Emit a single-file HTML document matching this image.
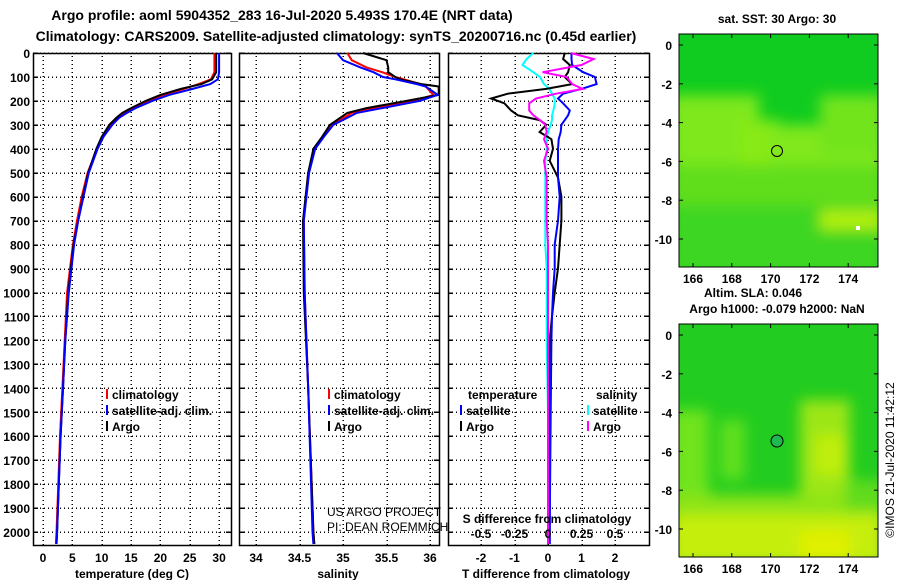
<!DOCTYPE html>
<html><head><meta charset="utf-8"><style>
body{margin:0;background:#fff;width:900px;height:580px;overflow:hidden}
svg text{font-family:"Liberation Sans",Arial,sans-serif;font-weight:bold;font-size:12px;fill:#000}
</style></head><body>
<svg id="c" width="900" height="580" viewBox="0 0 900 580">
<defs>
<filter id="blur1" x="-20%" y="-20%" width="140%" height="140%"><feGaussianBlur stdDeviation="7"/></filter>
<pattern id="dotH" width="4" height="2" patternUnits="userSpaceOnUse"><rect x="0" y="0" width="1" height="2" fill="#000"/></pattern>
<pattern id="dotV" width="2" height="4" patternUnits="userSpaceOnUse"><rect x="0" y="0" width="2" height="1" fill="#000"/></pattern>
<clipPath id="m1c"><rect x="679" y="34" width="199" height="233"/></clipPath>
<clipPath id="m2c"><rect x="679" y="324" width="199" height="233"/></clipPath>
<clipPath id="p1c"><rect x="33" y="45" width="198" height="500"/></clipPath>
<clipPath id="p2c"><rect x="239" y="45" width="200" height="500"/></clipPath>
<clipPath id="p3c"><rect x="448" y="45" width="201" height="500"/></clipPath>
</defs>
<text x="282" y="20" text-anchor="middle" style="font-size:14px">Argo profile: aoml 5904352_283 16-Jul-2020 5.493S 170.4E (NRT data)</text>
<text x="336" y="41" text-anchor="middle" style="font-size:14px">Climatology: CARS2009. Satellite-adjusted climatology: synTS_20200716.nc (0.45d earlier)</text>

<g>
<g clip-path="url(#m1c)">
<rect x="679" y="34" width="199" height="233" fill="#10cc20"/>
<g filter="url(#blur1)">
<rect x="670" y="95" width="89" height="90" fill="#7ee81a"/>
<rect x="740" y="120" width="40" height="70" fill="#88ea18"/>
<rect x="770" y="125" width="115" height="70" fill="#80e81a"/>
<rect x="820" y="95" width="65" height="60" fill="#72e41c"/>
<rect x="670" y="165" width="215" height="40" fill="#60de1e"/>
<rect x="670" y="205" width="215" height="70" fill="#3cd620"/>
<rect x="820" y="210" width="65" height="20" fill="#b0f010"/>
</g>
<circle cx="777" cy="151" r="5.5" fill="none" stroke="#000"/>
<rect x="856" y="226" width="4" height="4" fill="#fff"/>
</g>
<rect x="679" y="34" width="199" height="233" fill="none" stroke="#000"/>
</g>
<text x="777" y="23" text-anchor="middle">sat. SST: 30 Argo: 30</text>
<text x="753" y="297" text-anchor="middle">Altim. SLA: 0.046</text>
<text x="777" y="313" text-anchor="middle">Argo h1000: -0.079 h2000: NaN</text>

<g>
<g clip-path="url(#m2c)">
<rect x="679" y="324" width="199" height="233" fill="#22cc20"/>
<g filter="url(#blur1)">
<rect x="670" y="410" width="39" height="100" fill="#70e41c"/>
<rect x="720" y="420" width="25" height="60" fill="#60e01e"/>
<rect x="800" y="400" width="50" height="110" fill="#9ce616"/>
<rect x="815" y="435" width="30" height="40" fill="#c0ee10"/>
<rect x="670" y="510" width="215" height="55" fill="#c6ee10"/>
<rect x="670" y="495" width="215" height="20" fill="#8ee418"/>
<rect x="800" y="530" width="50" height="35" fill="#e0f000"/>
<rect x="845" y="480" width="40" height="30" fill="#60dc1e"/>
</g>
<circle cx="777" cy="441" r="6" fill="#20b850" stroke="#000"/>
</g>
<rect x="679" y="324" width="199" height="233" fill="none" stroke="#000"/>
</g>
<text transform="translate(894,460) rotate(-90)" text-anchor="middle" style="font-weight:normal">©IMOS 21-Jul-2020 11:42:12</text>

<g id="plots"></g>
</svg>
<script>
var tDepth = [0,80,110,130,150,175,200,230,250,270,300,350,400,500,600,700,800,1000,1200,1400,1600,1800,2000,2050];
var tArgo  = [29.5,29.5,28.8,27,23.5,20,17.5,15,13.5,12.5,11.3,10,9.1,7.7,6.8,6,5.2,4.3,3.8,3.4,3,2.7,2.4,2.3];
var tClim  = [29.2,29.2,28.6,26.5,24,20.5,18,15.4,14,12.8,11.6,10.2,9.2,7.6,6.6,5.8,5.1,4.1,3.7,3.3,2.9,2.6,2.3,2.2];
var tSat   = [30,30,29.8,28.5,25.5,21.5,18.6,15.8,14.3,13.0,11.8,10.3,9.3,7.8,6.9,6,5.3,4.4,3.8,3.4,3,2.7,2.4,2.3];
var sDepth = [0,30,60,80,100,110,130,140,175,200,230,250,300,350,400,500,700,1000,1400,2000,2050];
var sArgo  = [35.23,35.5,35.52,35.52,35.6,35.66,35.9,36.1,36.1,35.73,35.27,35.05,34.85,34.76,34.66,34.6,34.54,34.55,34.6,34.66,34.67];
var sClim  = [35.05,35.1,35.27,35.45,35.6,35.7,35.89,35.95,36.04,35.8,35.35,35.1,34.88,34.77,34.67,34.6,34.55,34.56,34.6,34.66,34.67];
var sSat   = [34.93,35.0,35.2,35.35,35.46,35.6,35.85,35.95,36.09,35.88,35.45,35.16,34.89,34.78,34.68,34.61,34.55,34.56,34.6,34.65,34.66];
var dDepth = [0,25,50,80,100,130,150,170,190,210,240,260,280,300,330,360,400,450,520,600,700,800,900,1000,1100,1200,1500,2000,2050];
var dTArgo = [0.5,0.45,0.65,0.6,0.5,0.72,-0.05,-1.2,-1.7,-1.3,-1.1,-0.9,-0.25,-0.05,-0.25,0.1,0.15,0.05,0.3,0.4,0.4,0.35,0.3,0.2,0.12,0.05,0.05,0.05,0.05];
var dTSat  = [0.7,0.7,0.72,1.05,1.4,1.45,1.0,0.45,0.3,0.45,0.65,0.6,0.5,0.4,0.38,0.32,0.3,0.3,0.3,0.35,0.3,0.2,0.2,0.15,0.12,0.1,0.08,0.05,0.05];
var dSSat  = [-0.11,-0.16,-0.19,-0.11,-0.06,-0.03,0.01,0.03,0.05,0.05,0.04,0.03,0.03,0.02,0.0,-0.01,-0.01,-0.02,-0.02,-0.02,-0.02,-0.02,-0.01,-0.01,-0.01,-0.01,0,0,0];
var dSArgo = [0.17,0.34,0.25,-0.04,0.14,0.18,0.26,0.06,-0.09,-0.14,-0.14,-0.11,-0.06,-0.02,-0.01,-0.03,0.0,-0.03,-0.01,-0.01,-0.01,0,0,0,0,0,0,0,0];
var depthTicks = [0,100,200,300,400,500,600,700,800,900,1000,1100,1200,1300,1400,1500,1600,1700,1800,1900,2000];
var tTicks = [0,5,10,15,20,25,30];
var sTicks = [34,34.5,35,35.5,36];
var dTicks = [-2,-1,0,1,2];
var dSLabels = [-0.5,-0.25,0,0.25,0.5];
var latTicks = [0,-2,-4,-6,-8,-10];
var lonTicks = [166,168,170,172,174];

function yD(d){return 53+d*0.2395;}
function xT(t){return 43+t*5.87;}
function xS(s){return 256+(s-34)*87;}
function xDT(v){return 548+v*33.5;}
function xDS(v){return 548+v*4*33.5;}
function latY1(l){return 45-l*19.4;}
function latY2(l){return 335-l*19.4;}
function lonX(l){return 693+(l-166)*19.4;}

var NS='http://www.w3.org/2000/svg';
var root=document.getElementById('plots');
function el(tag,attrs,parent){var e=document.createElementNS(NS,tag);for(var k in attrs)e.setAttribute(k,attrs[k]);(parent||root).appendChild(e);return e;}
function txt(x,y,s,anchor,parent,extra){var e=el('text',{x:x,y:y,'text-anchor':anchor||'start'},parent);if(extra)e.setAttribute('style',extra);e.textContent=s;return e;}

function panel(name,x0,x1,xticks,xf,labelFn){
  var g=el('g',{});
  
  
  depthTicks.forEach(function(d){
    var y=Math.round(yD(d));
    el('rect',{x:x0,y:y-0.5,width:x1-x0,height:1.5,fill:'url(#dotH)'},g);
    el('rect',{x:x0,y:y-0.5,width:5,height:1.5,fill:'#000'},g);
    el('rect',{x:x1-5,y:y-0.5,width:5,height:1.5,fill:'#000'},g);
  });
  xticks.forEach(function(t){
    var x=Math.round(xf(t));
    el('rect',{x:x-0.5,y:53,width:1.5,height:492,fill:'url(#dotV)'},g);
    var lt=txt(xf(t),562,labelFn(t),'middle',g);
    
    
  });
  el('rect',{x:x0+0.5,y:53.5,width:x1-x0,height:492,fill:'none',stroke:'#000','stroke-width':1.5},g);
  return g;
}
function line(g,depths,vals,xf,color,clip,name){
  var pts=depths.map(function(d,i){return xf(vals[i]).toFixed(1)+','+yD(d).toFixed(1);}).join(' ');
  var p=el('polyline',{points:pts,fill:'none',stroke:color,'stroke-width':2,'clip-path':'url(#'+clip+')'},g);
  
  
}

var yl=el('g',{});


depthTicks.forEach(function(d){txt(30,yD(d)+5,String(d),'end',yl);});

var g1=panel('temperature-panel',33,231,tTicks,xT,String);
line(g1,tDepth,tClim,xT,'#f00','p1c','temp-climatology-line');
line(g1,tDepth,tArgo,xT,'#000','p1c','temp-argo-line');
line(g1,tDepth,tSat,xT,'#00f','p1c','temp-satellite-line');
var a1=txt(132,578,'temperature (deg C)','middle',g1);



var g2=panel('salinity-panel',239,439,sTicks,xS,String);
line(g2,sDepth,sClim,xS,'#f00','p2c','sal-climatology-line');
line(g2,sDepth,sArgo,xS,'#000','p2c','sal-argo-line');
line(g2,sDepth,sSat,xS,'#00f','p2c','sal-satellite-line');
var a2=txt(338,578,'salinity','middle',g2);



var g3=panel('difference-panel',448,649,dTicks,xDT,String);
line(g3,dDepth,dSSat,xDS,'#0ff','p3c','sdiff-satellite-line');
line(g3,dDepth,dTArgo,xDT,'#000','p3c','tdiff-argo-line');
line(g3,dDepth,dTSat,xDT,'#00f','p3c','tdiff-satellite-line');
line(g3,dDepth,dSArgo,xDS,'#f0f','p3c','sdiff-argo-line');
var a3=txt(546,578,'T difference from climatology','middle',g3);


var sd=txt(547,523,'S difference from climatology','middle',g3);


dSLabels.forEach(function(v){txt(xDS(v),538,String(v),'middle',g3);});

function legEntry(x,y,color,label,name){
  var g=el('g',{});
  
  
  el('line',{x1:x,x2:x,y1:y-10,y2:y,stroke:color,'stroke-width':2},g);
  txt(x+5,y,label,'start',g);
}
legEntry(107,399,'#f00','climatology','legend-entry-climatology');
legEntry(107,415,'#00f','satellite-adj. clim.','legend-entry-satellite-adj');
legEntry(107,431,'#000','Argo','legend-entry-argo');
legEntry(329,399,'#f00','climatology','legend-entry-climatology-sal');
legEntry(329,415,'#00f','satellite-adj. clim.','legend-entry-satellite-adj-sal');
legEntry(329,431,'#000','Argo','legend-entry-argo-sal');
txt(468,399,'temperature','start');
txt(596,399,'salinity','start');
legEntry(461,415,'#00f','satellite','legend-entry-t-satellite');
legEntry(461,431,'#000','Argo','legend-entry-t-argo');
legEntry(588,415,'#0ff','satellite','legend-entry-s-satellite');
legEntry(588,431,'#f0f','Argo','legend-entry-s-argo');
txt(327,516,'US ARGO PROJECT','start',null,'font-weight:normal');
txt(327,531,'PI: DEAN ROEMMICH','start',null,'font-weight:normal');

function mapAxes(latY,top,bottom,name){
  var g=el('g',{});
  
  
  latTicks.forEach(function(l){
    var y=latY(l);
    txt(672,y+5,String(l),'end',g);
    el('line',{x1:679,x2:683,y1:y,y2:y,stroke:'#000'},g);
    el('line',{x1:874,x2:878,y1:y,y2:y,stroke:'#000'},g);
  });
  lonTicks.forEach(function(l){
    var x=lonX(l);
    txt(x,bottom+16,String(l),'middle',g);
    el('line',{x1:x,x2:x,y1:bottom-4,y2:bottom,stroke:'#000'},g);
    el('line',{x1:x,x2:x,y1:top,y2:top+4,stroke:'#000'},g);
  });
}
mapAxes(latY1,34,267,'sst-map-axes');
mapAxes(latY2,324,557,'sla-map-axes');
</script>
</body></html>
